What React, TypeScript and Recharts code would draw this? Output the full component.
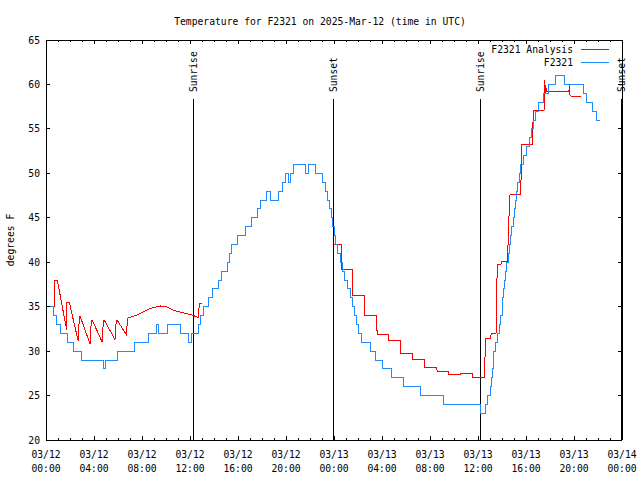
import React from 'react';
import {
  LineChart,
  Line,
  XAxis,
  YAxis,
  Legend,
  ReferenceLine,
} from 'recharts';

const FONT = '"DejaVu Sans Mono", "Liberation Mono", monospace';
const FS = 9.7;
const RED = '#ff0000';
const BLUE = '#1e8cff';
const INK = '#000000';

// hours since 03/12 00:00 UTC
const blueHours = [
  0, 0.6, 0.86, 1.17, 1.76, 2.33, 2.97, 4.83, 4.92, 5.97, 7.4, 8.57, 9.17, 9.4, 10.15, 11.2, 11.86,
  12.15, 12.72, 12.9, 13.15, 13.55, 13.85, 14.4, 14.6, 15.1, 15.25, 15.45, 15.95, 16.65, 17.15, 17.6,
  17.9, 18.4, 18.7, 19.35, 19.7, 19.95, 20.2, 20.4, 20.65, 21.6, 21.9, 22.45, 23.0, 23.3, 23.45, 23.6,
  23.75, 23.9, 24.02, 24.15, 24.3, 24.5, 24.7, 24.9, 25.12, 25.35, 25.55, 25.72, 25.88, 26.05, 26.3,
  27.03, 27.47, 28.02, 28.77, 29.75, 31.17, 33.12, 36.22, 36.62, 36.8, 37.0, 37.12, 37.2, 37.25,
  37.32, 37.45, 37.62, 37.78, 37.9, 38.0, 38.08, 38.15, 38.22, 38.3, 38.38, 38.52, 38.62, 38.72,
  38.82, 38.92, 39.02, 39.12, 39.22, 39.32, 39.42, 39.55, 39.8, 40.0, 40.25, 40.45, 40.62, 40.82,
  41.05, 41.45, 41.85, 42.45, 43.2, 44.8, 45.0, 45.55, 45.85, 46.2,
];
const blueTemps = [
  35, 34, 33, 32, 31, 30, 29, 28, 29, 30, 31, 32, 33, 32, 33, 32, 31,
  32, 33, 34, 35, 36, 37, 38, 39, 40, 41, 42, 43, 44, 45, 46,
  47, 48, 47, 48, 49, 50, 49, 50, 51, 50, 51, 50, 49, 48, 47, 46,
  45, 44, 43, 42, 41, 40, 39, 38, 37, 36, 35, 34, 33, 32, 31,
  30, 29, 28, 27, 26, 25, 24, 23, 24, 25, 26, 27, 28, 29,
  30, 31, 32, 33, 34, 35, 36, 37, 38, 39, 40, 41, 42, 43,
  44, 45, 46, 47, 48, 49, 50, 51, 52, 53, 54, 55, 56, 57,
  58, 59, 60, 61, 60, 59, 58, 57, 56, 56,
];

const redHours = [
  0.72, 0.75, 0.94, 1.72, 1.75, 1.94, 2.69, 2.78, 2.85, 3.67, 3.78, 3.85, 4.69, 4.78, 4.85, 5.75,
  5.86, 5.92, 6.72, 6.78, 7.0, 7.56, 8.11, 8.67, 9.5, 10.06, 10.6, 11.44, 12.14, 12.69, 12.78, 12.97,
  18,
  24.0, 24.6, 24.62, 25.55, 25.58, 26.53, 26.56, 27.56, 27.59, 28.53, 28.56, 29.5, 29.55, 30.53,
  30.58, 31.53, 31.58, 32.56, 32.6, 33.53, 33.58, 34.56, 34.58, 35.53, 35.56, 36.53, 36.58, 36.64,
  37.06, 37.1, 37.47, 37.5, 37.56, 37.6, 37.9, 37.97, 38.47, 38.53, 38.67, 39.56, 39.6, 39.64, 40.53,
  40.61, 41.5, 41.56, 41.62, 41.68, 41.75, 43.58, 43.61, 43.67, 43.8, 44.56,
];
const redTemps = [
  35, 38, 38, 32.4, 35.5, 35.5, 31.1, 33.9, 33.9, 30.8, 33.5, 33.5, 31.0, 33.5, 33.5, 31.3,
  33.5, 33.5, 31.8, 33.7, 33.8, 34.06, 34.4, 34.8, 35.08, 35.0, 34.6, 34.3, 34.06, 33.8, 35.4, 35.4,
  null,
  42, 42, 39.2, 39.2, 36.3, 36.3, 34.06, 34.06, 31.9, 31.9, 31.25, 31.25, 29.75, 29.75,
  29.08, 29.08, 28.2, 28.2, 27.7, 27.7, 27.4, 27.4, 27.5, 27.5, 27.05, 27.05, 29.2, 31.4,
  31.4, 32.0, 32.0, 31.9, 35.75, 39.7, 39.7, 40.06, 40.06, 43.6, 47.6, 47.6, 50.4, 53.2, 53.2,
  57.05, 57.05, 60.5, 59.0, 59.6, 59.2, 59.2, 60.05, 58.8, 58.6, 58.6,
];

const seriesNames = ['F2321 Analysis', 'F2321'];

const sunHours = [12.25, 23.92, 36.17, 47.92];
const sunLabels = ['Sunrise', 'Sunset', 'Sunrise', 'Sunset'];
const SUN_LINE_TOP = 58.35;

const xTicks = Array.from({ length: 49 }, (_, i) => i);
const yTicks = [20, 25, 30, 35, 40, 45, 50, 55, 60, 65];

const blueData = blueHours.map((h, i) => ({ h, temp: blueTemps[i] }));
const redData = redHours.map((h, i) => ({ h, temp: redTemps[i] }));

const pad2 = (n: number) => String(n).padStart(2, '0');

function BottomTick({ x, y, payload }: any) {
  const h = payload.value as number;
  const major = h % 4 === 0;
  const day = 12 + Math.floor(h / 24);
  return (
    <g>
      <line x1={x} x2={x} y1={y} y2={y - (major ? 4 : 2)} stroke={INK} shapeRendering="crispEdges" />
      {major && (
        <text x={x} y={y} textAnchor="middle" fontFamily={FONT} fontSize={FS} fill={INK}>
          <tspan x={x} dy={17.5}>{`03/${pad2(day)}`}</tspan>
          <tspan x={x} dy={14}>{`${pad2(h % 24)}:00`}</tspan>
        </text>
      )}
    </g>
  );
}

function TopTick({ x, y, payload }: any) {
  const major = (payload.value as number) % 4 === 0;
  return <line x1={x} x2={x} y1={y} y2={y + (major ? 4 : 2)} stroke={INK} shapeRendering="crispEdges" />;
}

function LeftTick({ x, y, payload }: any) {
  return (
    <g>
      <line x1={x} x2={x + 4} y1={y} y2={y} stroke={INK} shapeRendering="crispEdges" />
      <text x={x - 6} y={y} dy={3.5} textAnchor="end" fontFamily={FONT} fontSize={FS} fill={INK}>
        {payload.value}
      </text>
    </g>
  );
}

function RightTick({ x, y }: any) {
  return <line x1={x} x2={x - 4} y1={y} y2={y} stroke={INK} shapeRendering="crispEdges" />;
}

function SunLabel({ viewBox, text }: any) {
  if (!viewBox) return null;
  const tx = viewBox.x + 4;
  const ty = viewBox.y - 7;
  return (
    <text
      x={tx}
      y={ty}
      transform={`rotate(-90 ${tx} ${ty})`}
      textAnchor="start"
      fontFamily={FONT}
      fontSize={FS}
      fill={INK}
    >
      {text}
    </text>
  );
}

function LegendBox({ payload }: any) {
  const items = [...(payload || [])].sort(
    (a: any, b: any) => seriesNames.indexOf(a.value) - seriesNames.indexOf(b.value),
  );
  return (
    <div style={{ fontFamily: FONT, fontSize: FS, color: INK }}>
      {items.map((p: any) => (
        <div
          key={p.value}
          style={{ display: 'flex', justifyContent: 'flex-end', alignItems: 'center', height: 13, lineHeight: '13px' }}
        >
          <span>{p.value}</span>
          <svg width={36} height={13} style={{ display: 'block' }}>
            <line x1={8} x2={36} y1={6.5} y2={6.5} stroke={p.color} strokeWidth={1} shapeRendering="crispEdges" />
          </svg>
        </div>
      ))}
    </div>
  );
}

export default function App() {
  return (
    <div style={{ position: 'absolute', left: 0, top: 0, width: 640, height: 480, background: '#fff' }}>
      <LineChart width={640} height={480} margin={{ top: 0, right: 0, bottom: 0, left: 0 }}>
        <XAxis
          xAxisId="bottom"
          type="number"
          dataKey="h"
          domain={[0, 48]}
          ticks={xTicks}
          interval={0}
          height={40}
          tickSize={0}
          tickMargin={0}
          tickLine={false}
          tick={<BottomTick />}
          axisLine={{ stroke: INK, shapeRendering: 'crispEdges' }}
          allowDataOverflow
        />
        <XAxis
          xAxisId="top"
          orientation="top"
          type="number"
          dataKey="h"
          domain={[0, 48]}
          ticks={xTicks}
          interval={0}
          height={40}
          tickSize={0}
          tickMargin={0}
          tickLine={false}
          tick={<TopTick />}
          axisLine={{ stroke: INK, shapeRendering: 'crispEdges' }}
          allowDataOverflow
        />
        <YAxis
          yAxisId="left"
          type="number"
          domain={[20, 65]}
          ticks={yTicks}
          interval={0}
          width={46}
          tickSize={0}
          tickMargin={0}
          tickLine={false}
          tick={<LeftTick />}
          axisLine={{ stroke: INK, shapeRendering: 'crispEdges' }}
          allowDataOverflow
        />
        <YAxis
          yAxisId="right"
          orientation="right"
          type="number"
          domain={[20, 65]}
          ticks={yTicks}
          interval={0}
          width={18}
          tickSize={0}
          tickMargin={0}
          tickLine={false}
          tick={<RightTick />}
          axisLine={{ stroke: INK, shapeRendering: 'crispEdges' }}
          allowDataOverflow
        />
        {sunHours.map((h, i) => (
          <ReferenceLine
            key={i}
            xAxisId="bottom"
            yAxisId="left"
            segment={[{ x: h, y: 20 }, { x: h, y: SUN_LINE_TOP }]}
            stroke={INK}
            strokeWidth={1}
            shapeRendering="crispEdges"
            label={(props: any) => <SunLabel {...props} text={sunLabels[i]} />}
          />
        ))}
        <Line
          xAxisId="bottom"
          yAxisId="left"
          data={redData}
          dataKey="temp"
          name={seriesNames[0]}
          type="linear"
          stroke={RED}
          strokeWidth={1}
          dot={false}
          activeDot={false}
          connectNulls={false}
          isAnimationActive={false}
          shapeRendering="crispEdges"
        />
        <Line
          xAxisId="bottom"
          yAxisId="left"
          data={blueData}
          dataKey="temp"
          name={seriesNames[1]}
          type="stepAfter"
          stroke={BLUE}
          strokeWidth={1}
          dot={false}
          activeDot={false}
          isAnimationActive={false}
          shapeRendering="crispEdges"
        />
        <Legend
          layout="horizontal"
          verticalAlign="middle"
          align="center"
          content={<LegendBox />}
          wrapperStyle={{ position: 'absolute', top: 43, left: 440, width: 169, height: 26 }}
        />
      </LineChart>
      <svg
        width={640}
        height={480}
        style={{ position: 'absolute', left: 0, top: 0, pointerEvents: 'none' }}
      >
        <text x={320} y={25} textAnchor="middle" fontFamily={FONT} fontSize={FS} fill={INK}>
          Temperature for F2321 on 2025-Mar-12 (time in UTC)
        </text>
        <text x={14} y={240} transform="rotate(-90 14 240)" textAnchor="middle" fontFamily={FONT} fontSize={FS} fill={INK}>
          degrees F
        </text>
      </svg>
    </div>
  );
}
